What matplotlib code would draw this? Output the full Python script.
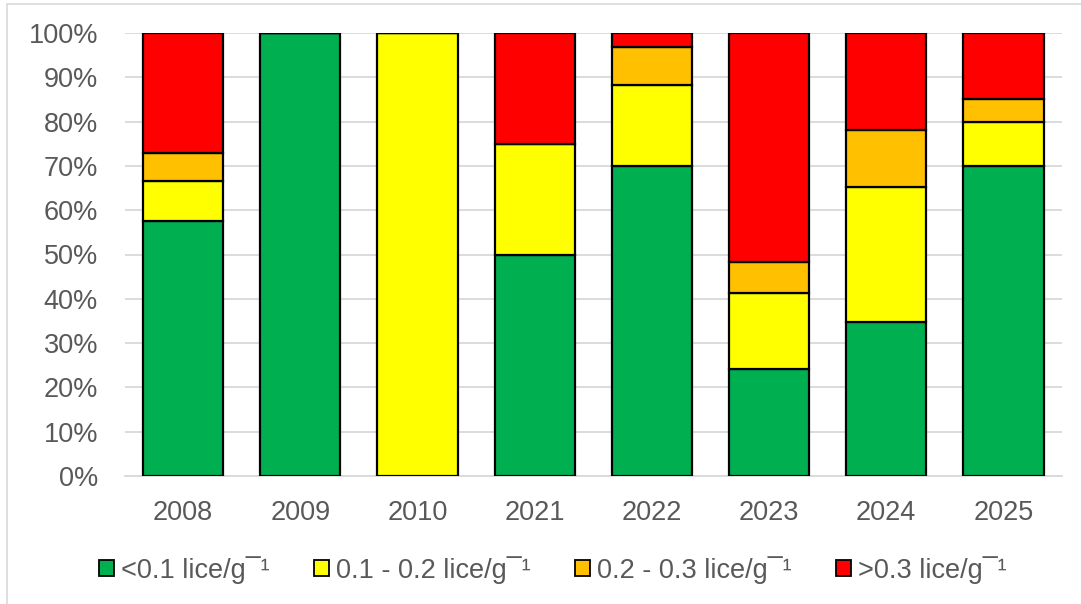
import matplotlib
matplotlib.use("Agg")
import matplotlib.pyplot as plt
from matplotlib.patches import Rectangle, Patch

plt.rcParams['font.family'] = ['Liberation Sans', 'DejaVu Sans']

years = ['2008', '2009', '2010', '2021', '2022', '2023', '2024', '2025']
# share of fish in each lice class, %
low = [57.6, 100, 0, 50, 70, 24.1, 34.8, 70]
mid = [9.1, 0, 100, 25, 18.2, 17.2, 30.4, 10]
high = [6.1, 0, 0, 0, 8.6, 6.9, 13.0, 5]
top = [27.3, 0, 0, 25, 3.2, 51.8, 21.8, 15]

labels = ['<0.1 lice/g\u00af\u00b9', '0.1 - 0.2 lice/g\u00af\u00b9',
          '0.2 - 0.3 lice/g\u00af\u00b9', '>0.3 lice/g\u00af\u00b9']
colors = ['#00b050', '#ffff00', '#ffc000', '#ff0000']
txt = '#595959'
fs = 19.5

fig = plt.figure(figsize=(10.81, 6.04), dpi=100)
ax = fig.add_axes([124.5 / 1081, 1 - 476 / 604, (1062 - 124.5) / 1081, (476 - 33) / 604])

# outer chart border (cut at right/bottom)
fig.patches.append(Rectangle((7 / 1081, -0.1), 1.2, 1 - 4 / 604 + 0.1,
                             transform=fig.transFigure, fill=False,
                             edgecolor='#d9d9d9', linewidth=1.2))

x = list(range(len(years)))
bottom = [0] * len(years)
for vals, col, lab in zip([low, mid, high, top], colors, labels):
    ax.bar(x, vals, 0.685, bottom=bottom, color=col, edgecolor='black',
           linewidth=1.6, label=lab, zorder=3)
    bottom = [b + v for b, v in zip(bottom, vals)]

ax.set_xlim(-0.5, len(years) - 0.5)
ax.set_ylim(0, 100)
ax.set_yticks(range(0, 101, 10))
ax.set_yticklabels([f'{v}%' for v in range(0, 101, 10)])
ax.set_xticks(x)
ax.set_xticklabels(years)
ax.yaxis.grid(True, color='#d9d9d9', linewidth=1.3, zorder=0)
for s in ['top', 'right', 'left']:
    ax.spines[s].set_visible(False)
ax.spines['bottom'].set_color('#d9d9d9')
ax.spines['bottom'].set_linewidth(1.3)
ax.tick_params(axis='both', length=0, labelsize=fs, colors=txt)
ax.tick_params(axis='x', pad=17)
ax.tick_params(axis='y', pad=19)

handles = [Patch(facecolor=c, edgecolor='black', linewidth=1.3) for c in colors]
fig.legend(handles, labels, loc='center', bbox_to_anchor=(553 / 1081, 1 - 570 / 604),
           ncol=4, frameon=False, fontsize=fs, labelcolor=txt,
           handlelength=0.55, handleheight=0.55, handletextpad=0.25,
           columnspacing=1.65)

fig.savefig('out.png', dpi=100)
